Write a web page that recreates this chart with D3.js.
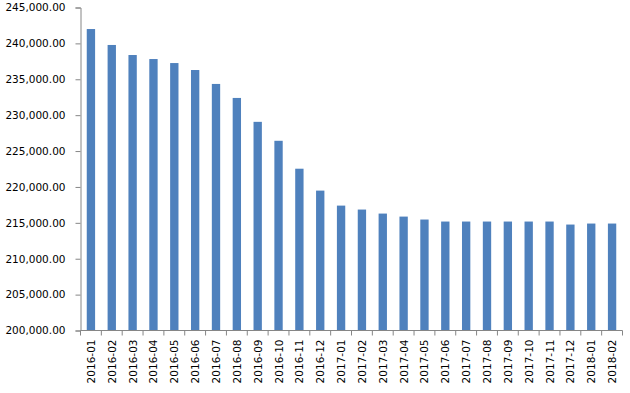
<!DOCTYPE html>
<html><head><meta charset="utf-8">
<script src="https://cdn.jsdelivr.net/npm/d3@7"></script>
<style>
body{margin:0;background:#fff;}
svg{display:block;}
text{font-family:"DejaVu Sans",Verdana,sans-serif;font-size:10.5px;fill:#000;}
</style></head>
<body>
<svg id="chart" width="630" height="393"></svg>
<script>
const categories = ["2016-01","2016-02","2016-03","2016-04","2016-05","2016-06","2016-07","2016-08","2016-09","2016-10","2016-11","2016-12","2017-01","2017-02","2017-03","2017-04","2017-05","2017-06","2017-07","2017-08","2017-09","2017-10","2017-11","2017-12","2018-01","2018-02"];
const values = [242000,239780,238380,237820,237260,236290,234350,232400,229070,226430,222540,219490,217400,216850,216290,215870,215460,215180,215180,215180,215180,215180,215180,214760,214900,214900];
const yTicks = [200000,205000,210000,215000,220000,225000,230000,235000,240000,245000];

const svg = d3.select("#chart");
const m = {left:80.5, right:7.5, top:7.5, bottom:62.5};
const W = 630, H = 393;
const x = d3.scaleBand().domain(categories).range([m.left, W - m.right]).paddingInner(0.6).paddingOuter(0.3);
const xb = d3.scaleBand().domain(categories).range([m.left, W - m.right]);
const y = d3.scaleLinear().domain([200000,245000]).range([H - m.bottom, m.top]);
const axisColor = "#868686";
const fmt = d3.format(",.2f");

// bars
svg.append("g").selectAll("rect").data(values).join("rect")
  .attr("x", (d,i) => xb(categories[i]) + xb.bandwidth()/2 - x.bandwidth()/2)
  .attr("width", x.bandwidth())
  .attr("y", d => y(d))
  .attr("height", d => y(200000) - y(d))
  .attr("fill", "#4F81BD");

// y axis
const ya = svg.append("g").attr("transform", `translate(${m.left},0)`)
  .call(d3.axisLeft(y).tickValues(yTicks).tickFormat(fmt).tickSize(5).tickPadding(10));
ya.select(".domain").attr("stroke", axisColor);
ya.selectAll(".tick line").attr("stroke", axisColor);
ya.selectAll("text").attr("font-family", null).attr("font-size", null).attr("fill","#000");

// x axis
const boundaries = categories.map(c => xb(c)).concat([W - m.right]);
const xg = svg.append("g");
xg.append("line").attr("x1", m.left).attr("x2", W - m.right)
  .attr("y1", y(200000)).attr("y2", y(200000)).attr("stroke", axisColor);
xg.selectAll("line.tk").data(boundaries).join("line").attr("class","tk")
  .attr("x1", d => d).attr("x2", d => d)
  .attr("y1", y(200000)).attr("y2", y(200000) + 5).attr("stroke", axisColor);
xg.selectAll("text").data(categories).join("text")
  .attr("transform", d => `translate(${xb(d) + xb.bandwidth()/2 + 4},${y(200000) + 9}) rotate(-90)`)
  .attr("text-anchor", "end")
  .text(d => d);
</script>
</body></html>
